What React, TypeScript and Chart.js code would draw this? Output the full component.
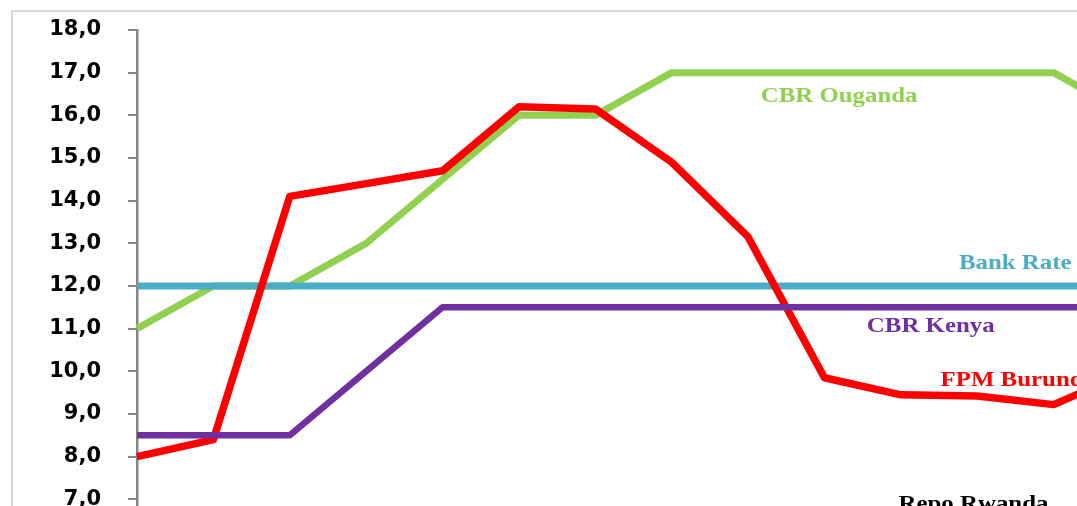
import React, { useEffect, useRef } from "react";
import { Chart, registerables } from "chart.js";

Chart.register(...registerables);

// Monthly policy rates, March 2015 to April 2016
const categories = [
  "mars-15", "avr-15", "mai-15", "juin-15", "juil-15", "août-15", "sept-15",
  "oct-15", "nov-15", "déc-15", "janv-16", "févr-16", "mars-16", "avr-16",
];
const bankRate = [12.0, 12.0, 12.0, 12.0, 12.0, 12.0, 12.0, 12.0, 12.0, 12.0, 12.0, 12.0, 12.0, 12.0];
const cbrKenya = [8.5, 8.5, 8.5, 10.0, 11.5, 11.5, 11.5, 11.5, 11.5, 11.5, 11.5, 11.5, 11.5, 11.5];
const cbrOuganda = [11.0, 12.0, 12.0, 13.0, 14.5, 16.0, 16.0, 17.0, 17.0, 17.0, 17.0, 17.0, 17.0, 16.0];
const fpmBurundi = [8.0, 8.4, 14.1, 14.4, 14.7, 16.2, 16.15, 14.9, 13.15, 9.85, 9.45, 9.42, 9.22, 10.0];

const yMin = 6;
const yMax = 18;

// Series name labels written inside the plot (anchor = category index, value at baseline)
const seriesLabels = [
  { text: "CBR Ouganda", color: "#92D050", at: 8.165, value: 16.31 },
  { text: "Bank Rate", color: "#4BACC6", at: 10.76, value: 12.4 },
  { text: "CBR Kenya", color: "#7030A0", at: 9.555, value: 10.92 },
  { text: "FPM Burundi", color: "#FF0000", at: 10.52, value: 9.66 },
  { text: "Repo Rwanda", color: "#000000", at: 9.97, value: 6.75 },
];

const seriesLabelPlugin = {
  id: "seriesLabels",
  afterDatasetsDraw(chart: any) {
    const { ctx, scales } = chart;
    const xs = scales.x;
    const ys = scales.y;
    ctx.save();
    ctx.font = 'bold 22px "Liberation Serif", "Times New Roman", serif';
    ctx.textAlign = "left";
    ctx.textBaseline = "alphabetic";
    for (const l of seriesLabels) {
      const px = xs.getPixelForValue(l.at);
      const py = ys.getPixelForValue(l.value);
      ctx.save();
      ctx.translate(px, py);
      ctx.scale(1.13, 1);
      ctx.fillStyle = l.color;
      ctx.fillText(l.text, 0, 0);
      ctx.restore();
    }
    ctx.restore();
  },
};

export default function App() {
  const canvasRef = useRef<HTMLCanvasElement | null>(null);

  useEffect(() => {
    const canvas = canvasRef.current;
    if (!canvas) return;
    const line = (label: string, data: number[], color: string, width: number, order: number) => ({
      label,
      data,
      borderColor: color,
      backgroundColor: color,
      borderWidth: width,
      pointRadius: 0,
      pointHoverRadius: 0,
      tension: 0,
      fill: false,
      borderJoinStyle: "round" as const,
      borderCapStyle: "butt" as const,
      order,
    });

    const chart = new Chart(canvas, {
      type: "line",
      data: {
        labels: categories,
        datasets: [
          line("CBR Ouganda", cbrOuganda, "#92D050", 7, 4),
          line("Bank Rate", bankRate, "#4BACC6", 7, 3),
          line("FPM Burundi", fpmBurundi, "#FF0000", 7.5, 2),
          line("CBR Kenya", cbrKenya, "#7030A0", 6.5, 1),
        ],
      },
      options: {
        animation: false,
        responsive: false,
        devicePixelRatio: 1,
        layout: { padding: { left: 0, top: 30, right: 20, bottom: 18 } },
        plugins: {
          legend: { display: false },
          tooltip: { enabled: false },
        },
        scales: {
          x: {
            display: false,
            offset: false,
          },
          y: {
            min: yMin,
            max: yMax,
            afterFit(scale: any) {
              // fixed axis width; the label gap should not reserve extra room above/below
              scale.width = 137;
              scale.paddingTop = 12;
              scale.paddingBottom = 12;
            },
            ticks: {
              stepSize: 1,
              padding: 27,
              color: "#000000",
              font: { family: '"DejaVu Sans", Verdana, sans-serif', weight: "bold", size: 21 },
              callback: (v: any) => Number(v).toFixed(1).replace(".", ","),
            },
            grid: {
              display: true,
              drawOnChartArea: false,
              drawTicks: true,
              tickLength: 9,
              color: "#868686",
              lineWidth: 2,
            },
            border: { display: true, color: "#868686", width: 2.5 },
          },
        },
      },
      plugins: [seriesLabelPlugin],
    });
    return () => chart.destroy();
  }, []);

  return (
    <div
      style={{
        position: "fixed",
        left: 0,
        top: 0,
        width: 1077,
        height: 506,
        overflow: "hidden",
        background: "#ffffff",
      }}
    >
      <div
        style={{
          position: "absolute",
          left: 11,
          top: 10,
          width: 1200,
          height: 700,
          border: "2px solid #d9d9d9",
          boxSizing: "border-box",
        }}
      />
      <canvas
        ref={canvasRef}
        width={1150}
        height={560}
        style={{ position: "absolute", left: 0, top: 0, width: 1150, height: 560 }}
      />
    </div>
  );
}
